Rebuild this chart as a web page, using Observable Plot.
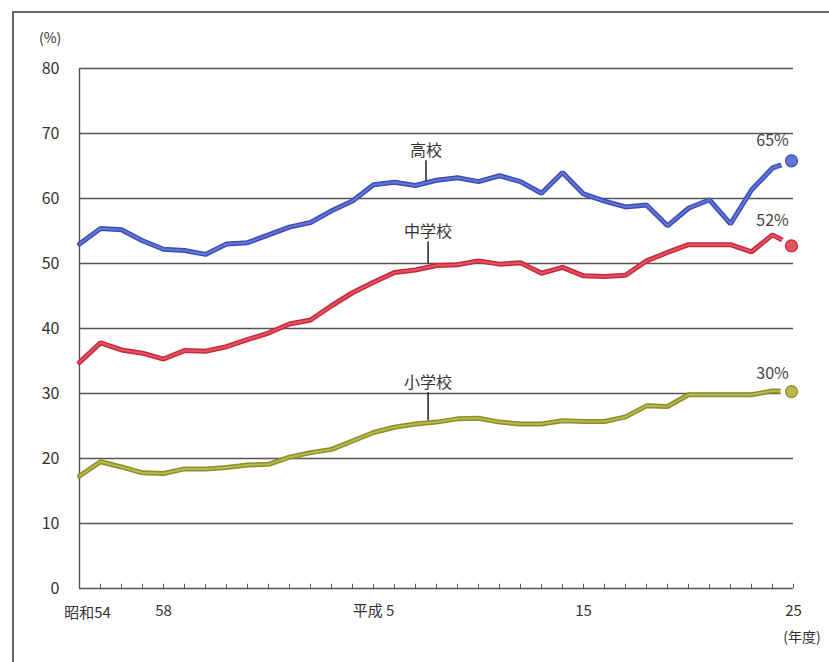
<!DOCTYPE html>
<html><head><meta charset="utf-8">
<script src="https://cdn.jsdelivr.net/npm/d3@7"></script>
<script src="https://cdn.jsdelivr.net/npm/@observablehq/plot@0.6"></script>
<style>
html,body{margin:0;padding:0;background:#fff;}
#wrap{position:relative;width:829px;height:662px;overflow:hidden;}
#frame{position:absolute;left:12px;top:11px;width:830px;height:660px;border-top:2px solid #666;border-left:2px solid #666;}
#wrap svg{position:absolute;left:0;top:0;}
</style></head>
<body><div id="wrap"><div id="frame"></div></div>
<script>
const years = d3.range(1979, 2014);
const highSchool = [53.0,55.4,55.2,53.5,52.2,52.0,51.4,53.0,53.2,54.4,55.6,56.3,58.1,59.6,62.1,62.5,62.0,62.8,63.2,62.6,63.5,62.6,60.8,64.0,60.7,59.6,58.7,59.0,55.8,58.5,59.8,56.1,61.3,64.7,65.8];
const juniorHigh = [34.8,37.8,36.7,36.2,35.3,36.6,36.5,37.2,38.3,39.3,40.7,41.3,43.5,45.5,47.1,48.6,49.0,49.7,49.8,50.4,49.9,50.1,48.5,49.4,48.1,48.0,48.2,50.4,51.7,52.9,52.9,52.9,51.8,54.4,52.7];
const elementary = [17.3,19.5,18.7,17.8,17.7,18.4,18.4,18.6,19.0,19.1,20.2,20.9,21.4,22.7,24.0,24.8,25.3,25.6,26.1,26.2,25.6,25.3,25.3,25.8,25.7,25.7,26.4,28.1,28.0,29.8,29.8,29.8,29.8,30.4,30.3];
const seriesNames = ["高校","中学校","小学校"];
const endLabels = ["65%","52%","30%"];
const xTickYears = [1983, 1993, 2003, 2013];
const xTickLabels = ["58","平成 5","15","25"];
const firstTickLabel = "昭和54";
const yTicks = [0,10,20,30,40,50,60,70,80];

const colors = {
  "高校": {outer:"#3d4fb0", inner:"#6275d9"},
  "中学校": {outer:"#c42a3c", inner:"#e8515f"},
  "小学校": {outer:"#8e8d2a", inner:"#b9b84a"}
};
const all = [highSchool, juniorHigh, elementary];
const rows = [];
seriesNames.forEach((s, i) => years.forEach((y, j) => rows.push({series: s, year: y, value: all[i][j]})));
const last = seriesNames.map((s, i) => ({series: s, year: 2013, value: all[i][all[i].length - 1], label: endLabels[i]}));
const labelPos = [
  {series:"高校", x:1995.5, y:67.3, y1:65.8, y2:62.6},
  {series:"中学校", x:1995.6, y:54.9, y1:53.3, y2:49.95},
  {series:"小学校", x:1995.6, y:31.6, y1:30.1, y2:25.8}
];
const endPos = [
  {label:"65%", x:2012, y:68.9},
  {label:"52%", x:2012, y:56.6},
  {label:"30%", x:2012, y:33.0}
];
const font = "'Noto Sans CJK JP', 'Noto Sans', sans-serif";

const marks = [
  Plot.ruleY(yTicks.filter(d => d > 0), {x1: 1979, x2: 2013, stroke: "#555", strokeWidth: 1.4}),
  Plot.ruleY([0], {x1: 1979, x2: 2013, stroke: "#555", strokeWidth: 1.4}),
  Plot.ruleX([1979], {y1: 0, y2: 80, stroke: "#555", strokeWidth: 1.4}),
  Plot.ruleX(years, {y1: 0, y2: 0.65, stroke: "#555", strokeWidth: 1}),
  Plot.axisY({ticks: yTicks, tickSize: 0, tickPadding: 20, fontSize: 16, fill: "#333", label: null}),
  Plot.axisX({ticks: xTickYears, tickSize: 0, tickPadding: 17, fontSize: 15, fill: "#333", label: null,
    tickFormat: d => xTickLabels[xTickYears.indexOf(d)]}),
  Plot.text([firstTickLabel], {x: 1979, y: 0, dx: 8, dy: 25, fontSize: 15, fill: "#333", lineAnchor: "middle"}),
];
seriesNames.forEach(s => {
  const data = rows.filter(r => r.series === s);
  marks.push(Plot.line(data, {x: "year", y: "value", stroke: colors[s].outer, strokeWidth: 5, strokeLinejoin: "miter"}));
  marks.push(Plot.line(data, {x: "year", y: "value", stroke: colors[s].inner, strokeWidth: 2, strokeLinejoin: "miter"}));
});
seriesNames.forEach(s => {
  const l = last.filter(r => r.series === s);
  marks.push(Plot.dot(l, {x: "year", y: "value", r: 11, fill: "#fff", dx: -2}));
  marks.push(Plot.dot(l, {x: "year", y: "value", r: 6, fill: colors[s].inner, stroke: colors[s].outer, strokeWidth: 1.2, dx: -2}));
});
marks.push(
  Plot.ruleX(labelPos, {x: "x", y1: "y1", y2: "y2", stroke: "#222", strokeWidth: 1.5}),
  Plot.text(labelPos, {x: "x", y: "y", text: "series", fontSize: 16, fill: "#333"}),
  Plot.text(endPos, {x: "x", y: "y", text: "label", fontSize: 16, fill: "#444"}),
  Plot.text(["(%)"], {x: 1977.6, y: 84.6, fontSize: 14, fill: "#333"}),
  Plot.text(["(年度)"], {x: 2013.4, y: -7.6, fontSize: 14, fill: "#333"})
);

const chart = Plot.plot({
  width: 829, height: 662,
  marginLeft: 79, marginRight: 36, marginTop: 68, marginBottom: 74,
  x: {domain: [1979, 2013], axis: null},
  y: {domain: [0, 80], axis: null},
  style: {fontFamily: font, background: "transparent", overflow: "visible"},
  marks
});
document.getElementById("wrap").appendChild(chart);
</script></body></html>
